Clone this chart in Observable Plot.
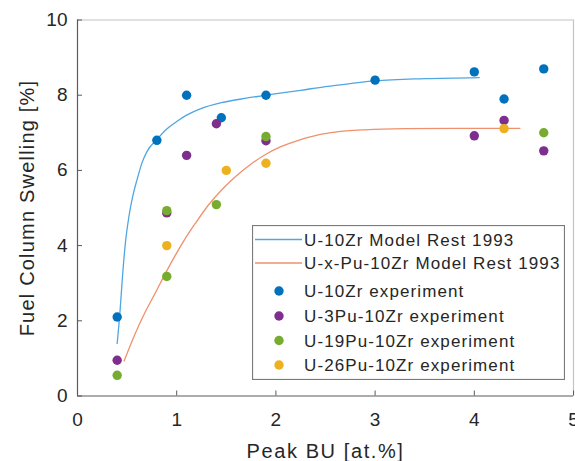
<!DOCTYPE html>
<html>
<head>
<meta charset="utf-8">
<script src="https://cdn.jsdelivr.net/npm/d3@7"></script>
<script src="https://cdn.jsdelivr.net/npm/@observablehq/plot@0.6"></script>
<style>
  html, body { margin: 0; padding: 0; background: white; }
  #wrap { position: relative; width: 575px; height: 461px; font-family: "Liberation Sans", Arial, sans-serif; }
  #legend { position: absolute; left: 252px; top: 225px; }
</style>
</head>
<body>
<div id="wrap"></div>
<script>
// ---- Data ----
const xTicks = [0, 1, 2, 3, 4, 5];
const yTicks = [0, 2, 4, 6, 8, 10];
const xLabel = "Peak BU [at.%]";
const yLabel = "Fuel Column Swelling [%]";

// Model curves (Rest 1993)
const modelU10Zr_bu = [0.40, 0.43, 0.45, 0.48, 0.52, 0.56, 0.60, 0.65, 0.70, 0.80, 0.90, 1.00, 1.10, 1.25, 1.45, 1.70, 1.90, 2.25, 2.50, 2.75, 3.00, 3.50, 4.05];
const modelU10Zr_sw = [1.40, 2.30, 3.05, 4.00, 4.80, 5.35, 5.75, 6.20, 6.50, 6.82, 7.10, 7.30, 7.47, 7.65, 7.80, 7.92, 8.00, 8.13, 8.23, 8.31, 8.38, 8.44, 8.47];
const modelUPuZr_bu = [0.47, 0.58, 0.68, 0.80, 0.89, 0.99, 1.07, 1.19, 1.32, 1.46, 1.60, 1.75, 1.90, 2.05, 2.25, 2.45, 2.60, 2.90, 3.30, 4.00, 4.46];
const modelUPuZr_sw = [0.93, 1.65, 2.22, 2.82, 3.28, 3.76, 4.12, 4.60, 5.08, 5.50, 5.85, 6.17, 6.43, 6.63, 6.82, 6.96, 7.02, 7.08, 7.11, 7.12, 7.12];

// Experiments
const expU10Zr_bu = [0.40, 0.80, 1.10, 1.45, 1.90, 3.00, 4.00, 4.30, 4.70];
const expU10Zr_sw = [2.10, 6.80, 8.00, 7.40, 8.00, 8.40, 8.62, 7.90, 8.70];
const expU3Pu_bu = [0.40, 0.90, 1.10, 1.40, 1.90, 4.00, 4.30, 4.70];
const expU3Pu_sw = [0.95, 4.87, 6.40, 7.24, 6.79, 6.92, 7.33, 6.52];
const expU19Pu_bu = [0.40, 0.90, 0.90, 1.40, 1.90, 4.70];
const expU19Pu_sw = [0.55, 4.93, 3.18, 5.09, 6.90, 7.00];
const expU26Pu_bu = [0.90, 1.50, 1.90, 4.30];
const expU26Pu_sw = [4.00, 6.00, 6.19, 7.11];

const lineNames = ["U-10Zr Model Rest 1993", "U-x-Pu-10Zr Model Rest 1993"];
const lineColors = ["#4fa6e2", "#f0906c"];
const dotNames = ["U-10Zr experiment", "U-3Pu-10Zr experiment", "U-19Pu-10Zr experiment", "U-26Pu-10Zr experiment"];
const dotColors = ["#0072bd", "#7e2f8e", "#77ac30", "#edb120"];

// ---- Build tables ----
const zip = (xs, ys, s) => xs.map((x, i) => ({x, y: ys[i], s}));
const curves = [
  zip(modelU10Zr_bu, modelU10Zr_sw, lineNames[0]),
  zip(modelUPuZr_bu, modelUPuZr_sw, lineNames[1])
];
const dots = [
  ...zip(expU10Zr_bu, expU10Zr_sw, dotNames[0]),
  ...zip(expU3Pu_bu, expU3Pu_sw, dotNames[1]),
  ...zip(expU19Pu_bu, expU19Pu_sw, dotNames[2]),
  ...zip(expU26Pu_bu, expU26Pu_sw, dotNames[3])
];

const axisColor = "#5a5a5a";
const boxColor = "#c4c4c4";
const textColor = "#262626";

const chart = Plot.plot({
  width: 575,
  height: 461,
  marginLeft: 77,
  marginRight: 2,
  marginTop: 19.5,
  marginBottom: 65.5,
  style: {fontFamily: "'Liberation Sans', Arial, sans-serif", fontSize: "19px", color: textColor, background: "white", overflow: "visible"},
  x: {domain: [0, 5]},
  y: {domain: [0, 10]},
  marks: [
    Plot.ruleY([10], {stroke: boxColor, strokeWidth: 1.2}),
    Plot.ruleX([5], {stroke: boxColor, strokeWidth: 1.2}),
    Plot.axisX({ticks: xTicks, tickSize: -5, tickPadding: 21, stroke: axisColor, tickFormat: d => d, fontSize: 19, letterSpacing: "0.5px",
      label: xLabel, labelAnchor: "center", labelArrow: "none", labelOffset: 62}),
    Plot.axisY({ticks: yTicks, tickSize: -5, tickPadding: 15, stroke: axisColor, tickFormat: d => d, fontSize: 19, letterSpacing: "0.5px",
      label: yLabel, labelAnchor: "center", labelArrow: "none", labelOffset: 58}),
    Plot.ruleX([0], {stroke: axisColor, strokeWidth: 1.2}),
    Plot.ruleY([0], {stroke: axisColor, strokeWidth: 1.2}),
    Plot.line(curves[0], {x: "x", y: "y", stroke: lineColors[0], strokeWidth: 1.3, curve: "monotone-x"}),
    Plot.line(curves[1], {x: "x", y: "y", stroke: lineColors[1], strokeWidth: 1.3, curve: "monotone-x"}),
    Plot.dot(dots, {x: "x", y: "y", fill: "s", r: 4.7, stroke: "none"})
  ],
  color: {domain: dotNames, range: dotColors}
});
document.getElementById("wrap").appendChild(chart);

// style axis labels
d3.select(chart).selectAll("[aria-label='x-axis label'] text")
  .style("font-size", "20px").style("letter-spacing", "1.6px");
d3.select(chart).selectAll("[aria-label='y-axis label'] text")
  .style("font-size", "20px").style("letter-spacing", "1.2px");

// ---- Legend ----
const lw = 313, lh = 155;
const leg = d3.select("#wrap").append("svg")
  .attr("id", "legend").attr("width", lw).attr("height", lh)
  .style("font-family", "'Liberation Sans', Arial, sans-serif");
leg.append("rect").attr("x", 0.5).attr("y", 0.5).attr("width", lw - 1).attr("height", lh - 1)
  .attr("fill", "white").attr("stroke", "#7a7a7a").attr("stroke-width", 1.2);
const rowsY = [14.5, 38, 66, 91, 115.5, 140];
lineNames.forEach((n, i) => {
  leg.append("line").attr("x1", 3).attr("x2", 50).attr("y1", rowsY[i]).attr("y2", rowsY[i])
    .attr("stroke", lineColors[i]).attr("stroke-width", 1.5);
  leg.append("text").attr("x", 52).attr("y", rowsY[i]).attr("dy", "0.36em")
    .attr("font-size", 17).attr("letter-spacing", "1.1px").attr("fill", textColor).text(n);
});
dotNames.forEach((n, i) => {
  const y = rowsY[i + 2];
  leg.append("circle").attr("cx", 27).attr("cy", y).attr("r", 4.7).attr("fill", dotColors[i]);
  leg.append("text").attr("x", 52).attr("y", y).attr("dy", "0.36em")
    .attr("font-size", 17).attr("letter-spacing", "1.1px").attr("fill", textColor).text(n);
});
</script>
</body>
</html>
